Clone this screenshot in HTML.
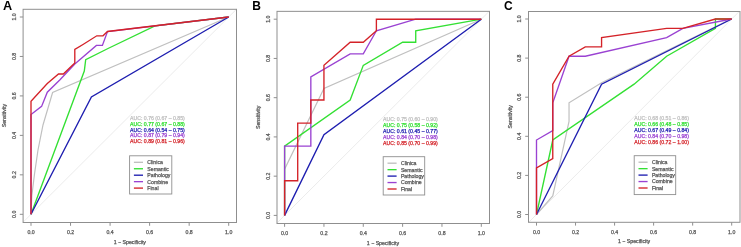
<!DOCTYPE html>
<html><head><meta charset="utf-8"><title>ROC curves</title>
<style>
html,body{margin:0;padding:0;background:#fff;}
body{width:741px;height:247px;overflow:hidden;font-family:"Liberation Sans",sans-serif;}
svg{display:block;will-change:transform;}
text{font-family:"Liberation Sans",sans-serif;}
.s text{stroke-width:0.25px;paint-order:stroke;}
</style></head><body>
<svg width="741" height="247" viewBox="0 0 741 247">
<rect x="0" y="0" width="741" height="247" fill="#fff"/>
<g class="s">
<text x="0" y="0" font-size="12" font-weight="bold" fill="#000" transform="translate(2.9 10.2) scale(1.06 1)">A</text>
<line x1="23.09" y1="222.19" x2="236.61" y2="9.11" stroke="#e9e9e9" stroke-width="0.9"/>
<polyline fill="none" stroke="#c0c0c0" stroke-width="1.2" stroke-linejoin="miter" points="31,214.3 31.8,196 34.5,174 38,150 43,125 52.6,92.5 228.7,17"/>
<polyline fill="none" stroke="#33e033" stroke-width="1.35" stroke-linejoin="miter" points="31,214.3 84.3,71 85.7,59.6 108,48.5 155,25.8 228.7,17"/>
<polyline fill="none" stroke="#1e1eb0" stroke-width="1.35" stroke-linejoin="miter" points="31,214.3 91.4,96.9 228.7,17"/>
<polyline fill="none" stroke="#9a42d2" stroke-width="1.35" stroke-linejoin="miter" points="31,214.3 31,114.5 41.6,106.4 47.3,92.2 60,79.8 74.8,64 96.4,45.4 102.4,45.4 107.5,31.5 228.7,17"/>
<polyline fill="none" stroke="#d42228" stroke-width="1.35" stroke-linejoin="miter" points="31,214.3 31,101.3 47.3,83.6 58.5,74 63.3,74 74.8,62.9 74.8,49.5 83,44.5 96.8,35.8 103,35.8 107.5,31.5 228.7,17"/>
<rect x="23.1" y="9.3" width="213.4" height="213.2" fill="none" stroke="#8f8f8f" stroke-width="1"/>
<path d="M31 222.5v3.3M23.1 214.3h-3.3M70.54 222.5v3.3M23.1 174.84h-3.3M110.08 222.5v3.3M23.1 135.38h-3.3M149.62 222.5v3.3M23.1 95.92h-3.3M189.16 222.5v3.3M23.1 56.46h-3.3M228.7 222.5v3.3M23.1 17h-3.3" stroke="#8f8f8f" stroke-width="1" fill="none"/>
<text x="31" y="234.2" font-size="5.2" text-anchor="middle" fill="#555555" stroke="#555555">0.0</text>
<text x="14.5" y="216.2" font-size="5.2" text-anchor="middle" fill="#555555" transform="rotate(-90 14.5 214.3)" stroke="#555555">0.0</text>
<text x="70.54" y="234.2" font-size="5.2" text-anchor="middle" fill="#555555" stroke="#555555">0.2</text>
<text x="14.5" y="176.74" font-size="5.2" text-anchor="middle" fill="#555555" transform="rotate(-90 14.5 174.84)" stroke="#555555">0.2</text>
<text x="110.08" y="234.2" font-size="5.2" text-anchor="middle" fill="#555555" stroke="#555555">0.4</text>
<text x="14.5" y="137.28" font-size="5.2" text-anchor="middle" fill="#555555" transform="rotate(-90 14.5 135.38)" stroke="#555555">0.4</text>
<text x="149.62" y="234.2" font-size="5.2" text-anchor="middle" fill="#555555" stroke="#555555">0.6</text>
<text x="14.5" y="97.82" font-size="5.2" text-anchor="middle" fill="#555555" transform="rotate(-90 14.5 95.92)" stroke="#555555">0.6</text>
<text x="189.16" y="234.2" font-size="5.2" text-anchor="middle" fill="#555555" stroke="#555555">0.8</text>
<text x="14.5" y="58.36" font-size="5.2" text-anchor="middle" fill="#555555" transform="rotate(-90 14.5 56.46)" stroke="#555555">0.8</text>
<text x="228.7" y="234.2" font-size="5.2" text-anchor="middle" fill="#555555" stroke="#555555">1.0</text>
<text x="14.5" y="18.9" font-size="5.2" text-anchor="middle" fill="#555555" transform="rotate(-90 14.5 17)" stroke="#555555">1.0</text>
<text x="129.85" y="243.5" font-size="5.2" text-anchor="middle" fill="#555555" stroke="#555555">1 − Specificity</text>
<text x="4.1" y="117.55" font-size="5.2" text-anchor="middle" fill="#555555" transform="rotate(-90 4.1 115.65)" stroke="#555555">Sensitivity</text>
<text x="130" y="119.8" font-size="5.2" fill="#c0c0c0" stroke="#c0c0c0">AUC: 0.76 (0.67 – 0.85)</text>
<text x="130" y="125.68" font-size="5.2" fill="#33e033" stroke="#33e033">AUC: 0.77 (0.67 – 0.88)</text>
<text x="130" y="131.56" font-size="5.2" fill="#1e1eb0" stroke="#1e1eb0">AUC: 0.64 (0.54 – 0.75)</text>
<text x="130" y="137.44" font-size="5.2" fill="#9a42d2" stroke="#9a42d2">AUC: 0.87 (0.79 – 0.94)</text>
<text x="130" y="143.32" font-size="5.2" fill="#d42228" stroke="#d42228">AUC: 0.89 (0.81 – 0.96)</text>
<rect x="129.6" y="155.8" width="42.2" height="38.2" fill="#fff" stroke="#8f8f8f" stroke-width="0.9"/>
<line x1="133.9" y1="162.3" x2="143" y2="162.3" stroke="#c0c0c0" stroke-width="1.35"/>
<text x="147.3" y="164.2" font-size="5.2" fill="#555555" stroke="#555555">Clinica</text>
<line x1="133.9" y1="168.75" x2="143" y2="168.75" stroke="#33e033" stroke-width="1.35"/>
<text x="147.3" y="170.65" font-size="5.2" fill="#555555" stroke="#555555">Semantic</text>
<line x1="133.9" y1="175.2" x2="143" y2="175.2" stroke="#1e1eb0" stroke-width="1.35"/>
<text x="147.3" y="177.1" font-size="5.2" fill="#555555" stroke="#555555">Pathology</text>
<line x1="133.9" y1="181.65" x2="143" y2="181.65" stroke="#9a42d2" stroke-width="1.35"/>
<text x="147.3" y="183.55" font-size="5.2" fill="#555555" stroke="#555555">Combine</text>
<line x1="133.9" y1="188.1" x2="143" y2="188.1" stroke="#d42228" stroke-width="1.35"/>
<text x="147.3" y="190" font-size="5.2" fill="#555555" stroke="#555555">Final</text>
</g>
<g class="s">
<text x="0" y="0" font-size="12" font-weight="bold" fill="#000" transform="translate(252.2 10.2) scale(1 1)">B</text>
<line x1="276.73" y1="223.25" x2="489.17" y2="11.35" stroke="#e9e9e9" stroke-width="0.9"/>
<polyline fill="none" stroke="#c0c0c0" stroke-width="1.2" stroke-linejoin="miter" points="284.6,215.4 284.6,169.24 323.94,88.45 481.3,19.2"/>
<polyline fill="none" stroke="#33e033" stroke-width="1.35" stroke-linejoin="miter" points="284.6,215.4 284.6,146.15 350.17,99.99 363.28,65.36 402.62,42.28 415.73,42.28 415.73,30.74 481.3,19.2"/>
<polyline fill="none" stroke="#1e1eb0" stroke-width="1.35" stroke-linejoin="miter" points="284.6,215.4 323.94,134.61 481.3,19.2"/>
<polyline fill="none" stroke="#9a42d2" stroke-width="1.35" stroke-linejoin="miter" points="284.6,215.4 284.6,146.15 310.83,146.15 310.83,76.91 350.17,53.82 363.28,53.82 376.39,30.74 415.73,19.2 481.3,19.2"/>
<polyline fill="none" stroke="#d42228" stroke-width="1.35" stroke-linejoin="miter" points="284.6,215.4 284.6,180.78 297.71,180.78 297.71,123.07 310.83,123.07 310.83,99.99 323.94,99.99 323.94,65.36 350.17,42.28 363.28,42.28 376.39,30.74 376.39,19.2 481.3,19.2"/>
<rect x="277" y="11.35" width="212.5" height="212.15" fill="none" stroke="#8f8f8f" stroke-width="1"/>
<path d="M284.6 223.5v3.3M277 215.4h-3.3M323.94 223.5v3.3M277 176.16h-3.3M363.28 223.5v3.3M277 136.92h-3.3M402.62 223.5v3.3M277 97.68h-3.3M441.96 223.5v3.3M277 58.44h-3.3M481.3 223.5v3.3M277 19.2h-3.3" stroke="#8f8f8f" stroke-width="1" fill="none"/>
<text x="284.6" y="235.2" font-size="5.2" text-anchor="middle" fill="#555555" stroke="#555555">0.0</text>
<text x="268.4" y="217.3" font-size="5.2" text-anchor="middle" fill="#555555" transform="rotate(-90 268.4 215.4)" stroke="#555555">0.0</text>
<text x="323.94" y="235.2" font-size="5.2" text-anchor="middle" fill="#555555" stroke="#555555">0.2</text>
<text x="268.4" y="178.06" font-size="5.2" text-anchor="middle" fill="#555555" transform="rotate(-90 268.4 176.16)" stroke="#555555">0.2</text>
<text x="363.28" y="235.2" font-size="5.2" text-anchor="middle" fill="#555555" stroke="#555555">0.4</text>
<text x="268.4" y="138.82" font-size="5.2" text-anchor="middle" fill="#555555" transform="rotate(-90 268.4 136.92)" stroke="#555555">0.4</text>
<text x="402.62" y="235.2" font-size="5.2" text-anchor="middle" fill="#555555" stroke="#555555">0.6</text>
<text x="268.4" y="99.58" font-size="5.2" text-anchor="middle" fill="#555555" transform="rotate(-90 268.4 97.68)" stroke="#555555">0.6</text>
<text x="441.96" y="235.2" font-size="5.2" text-anchor="middle" fill="#555555" stroke="#555555">0.8</text>
<text x="268.4" y="60.34" font-size="5.2" text-anchor="middle" fill="#555555" transform="rotate(-90 268.4 58.44)" stroke="#555555">0.8</text>
<text x="481.3" y="235.2" font-size="5.2" text-anchor="middle" fill="#555555" stroke="#555555">1.0</text>
<text x="268.4" y="21.1" font-size="5.2" text-anchor="middle" fill="#555555" transform="rotate(-90 268.4 19.2)" stroke="#555555">1.0</text>
<text x="382.95" y="244.5" font-size="5.2" text-anchor="middle" fill="#555555" stroke="#555555">1 − Specificity</text>
<text x="258" y="119.2" font-size="5.2" text-anchor="middle" fill="#555555" transform="rotate(-90 258 117.3)" stroke="#555555">Sensitivity</text>
<text x="383" y="120.8" font-size="5.2" fill="#c0c0c0" stroke="#c0c0c0">AUC: 0.75 (0.60 – 0.90)</text>
<text x="383" y="126.75" font-size="5.2" fill="#33e033" stroke="#33e033">AUC: 0.75 (0.58 – 0.92)</text>
<text x="383" y="132.7" font-size="5.2" fill="#1e1eb0" stroke="#1e1eb0">AUC: 0.61 (0.45 – 0.77)</text>
<text x="383" y="138.65" font-size="5.2" fill="#9a42d2" stroke="#9a42d2">AUC: 0.84 (0.70 – 0.98)</text>
<text x="383" y="144.6" font-size="5.2" fill="#d42228" stroke="#d42228">AUC: 0.85 (0.70 – 0.99)</text>
<rect x="383.2" y="156.7" width="41.5" height="38.3" fill="#fff" stroke="#8f8f8f" stroke-width="0.9"/>
<line x1="387.5" y1="163.2" x2="396.6" y2="163.2" stroke="#c0c0c0" stroke-width="1.35"/>
<text x="400.9" y="165.1" font-size="5.2" fill="#555555" stroke="#555555">Clinica</text>
<line x1="387.5" y1="169.65" x2="396.6" y2="169.65" stroke="#33e033" stroke-width="1.35"/>
<text x="400.9" y="171.55" font-size="5.2" fill="#555555" stroke="#555555">Semantic</text>
<line x1="387.5" y1="176.1" x2="396.6" y2="176.1" stroke="#1e1eb0" stroke-width="1.35"/>
<text x="400.9" y="178" font-size="5.2" fill="#555555" stroke="#555555">Pathology</text>
<line x1="387.5" y1="182.55" x2="396.6" y2="182.55" stroke="#9a42d2" stroke-width="1.35"/>
<text x="400.9" y="184.45" font-size="5.2" fill="#555555" stroke="#555555">Combine</text>
<line x1="387.5" y1="189" x2="396.6" y2="189" stroke="#d42228" stroke-width="1.35"/>
<text x="400.9" y="190.9" font-size="5.2" fill="#555555" stroke="#555555">Final</text>
</g>
<g class="s">
<text x="0" y="0" font-size="12" font-weight="bold" fill="#000" transform="translate(504 10.2) scale(1 1)">C</text>
<line x1="528.69" y1="222.32" x2="739.51" y2="11.18" stroke="#e9e9e9" stroke-width="0.9"/>
<polyline fill="none" stroke="#c0c0c0" stroke-width="1.2" stroke-linejoin="miter" points="536.5,214.5 552.77,195.88 569.03,121.4 569.03,102.79 601.57,82.77 731.7,18.72"/>
<polyline fill="none" stroke="#33e033" stroke-width="1.35" stroke-linejoin="miter" points="536.5,214.5 552.77,140.02 634.1,84.17 666.63,56.24 715.43,28.31 715.43,19 731.7,19"/>
<polyline fill="none" stroke="#1e1eb0" stroke-width="1.35" stroke-linejoin="miter" points="536.5,214.5 601.57,84.17 731.7,19"/>
<polyline fill="none" stroke="#9a42d2" stroke-width="1.35" stroke-linejoin="miter" points="536.5,214.5 536.5,140.02 552.77,130.71 552.77,102.79 569.03,56.24 585.3,56.24 666.63,37.62 682.9,28.31 731.7,19"/>
<polyline fill="none" stroke="#d42228" stroke-width="1.35" stroke-linejoin="miter" points="536.5,214.5 536.5,167.95 552.77,158.64 552.77,84.17 569.03,56.24 585.3,46.93 601.57,46.93 601.57,37.62 666.63,28.31 682.9,28.31 715.43,19 731.7,19"/>
<rect x="528.5" y="11.5" width="211.5" height="210.8" fill="none" stroke="#8f8f8f" stroke-width="1"/>
<path d="M536.5 222.3v3.3M528.5 214.5h-3.3M575.54 222.3v3.3M528.5 175.4h-3.3M614.58 222.3v3.3M528.5 136.3h-3.3M653.62 222.3v3.3M528.5 97.2h-3.3M692.66 222.3v3.3M528.5 58.1h-3.3M731.7 222.3v3.3M528.5 19h-3.3" stroke="#8f8f8f" stroke-width="1" fill="none"/>
<text x="536.5" y="234" font-size="5.2" text-anchor="middle" fill="#555555" stroke="#555555">0.0</text>
<text x="519" y="216.4" font-size="5.2" text-anchor="middle" fill="#555555" transform="rotate(-90 519 214.5)" stroke="#555555">0.0</text>
<text x="575.54" y="234" font-size="5.2" text-anchor="middle" fill="#555555" stroke="#555555">0.2</text>
<text x="519" y="177.3" font-size="5.2" text-anchor="middle" fill="#555555" transform="rotate(-90 519 175.4)" stroke="#555555">0.2</text>
<text x="614.58" y="234" font-size="5.2" text-anchor="middle" fill="#555555" stroke="#555555">0.4</text>
<text x="519" y="138.2" font-size="5.2" text-anchor="middle" fill="#555555" transform="rotate(-90 519 136.3)" stroke="#555555">0.4</text>
<text x="653.62" y="234" font-size="5.2" text-anchor="middle" fill="#555555" stroke="#555555">0.6</text>
<text x="519" y="99.1" font-size="5.2" text-anchor="middle" fill="#555555" transform="rotate(-90 519 97.2)" stroke="#555555">0.6</text>
<text x="692.66" y="234" font-size="5.2" text-anchor="middle" fill="#555555" stroke="#555555">0.8</text>
<text x="519" y="60" font-size="5.2" text-anchor="middle" fill="#555555" transform="rotate(-90 519 58.1)" stroke="#555555">0.8</text>
<text x="731.7" y="234" font-size="5.2" text-anchor="middle" fill="#555555" stroke="#555555">1.0</text>
<text x="519" y="20.9" font-size="5.2" text-anchor="middle" fill="#555555" transform="rotate(-90 519 19)" stroke="#555555">1.0</text>
<text x="634.1" y="243.3" font-size="5.2" text-anchor="middle" fill="#555555" stroke="#555555">1 − Specificity</text>
<text x="510.5" y="118.65" font-size="5.2" text-anchor="middle" fill="#555555" transform="rotate(-90 510.5 116.75)" stroke="#555555">Sensitivity</text>
<text x="634.2" y="120" font-size="5.2" fill="#c0c0c0" stroke="#c0c0c0">AUC: 0.68 (0.51 – 0.86)</text>
<text x="634.2" y="125.9" font-size="5.2" fill="#33e033" stroke="#33e033">AUC: 0.66 (0.48 – 0.85)</text>
<text x="634.2" y="131.8" font-size="5.2" fill="#1e1eb0" stroke="#1e1eb0">AUC: 0.67 (0.49 – 0.84)</text>
<text x="634.2" y="137.7" font-size="5.2" fill="#9a42d2" stroke="#9a42d2">AUC: 0.84 (0.70 – 0.98)</text>
<text x="634.2" y="143.6" font-size="5.2" fill="#d42228" stroke="#d42228">AUC: 0.86 (0.72 – 1.00)</text>
<rect x="634.2" y="155.7" width="41.5" height="38.9" fill="#fff" stroke="#8f8f8f" stroke-width="0.9"/>
<line x1="638.5" y1="162.2" x2="647.6" y2="162.2" stroke="#c0c0c0" stroke-width="1.35"/>
<text x="651.9" y="164.1" font-size="5.2" fill="#555555" stroke="#555555">Clinica</text>
<line x1="638.5" y1="168.65" x2="647.6" y2="168.65" stroke="#33e033" stroke-width="1.35"/>
<text x="651.9" y="170.55" font-size="5.2" fill="#555555" stroke="#555555">Semantic</text>
<line x1="638.5" y1="175.1" x2="647.6" y2="175.1" stroke="#1e1eb0" stroke-width="1.35"/>
<text x="651.9" y="177" font-size="5.2" fill="#555555" stroke="#555555">Pathology</text>
<line x1="638.5" y1="181.55" x2="647.6" y2="181.55" stroke="#9a42d2" stroke-width="1.35"/>
<text x="651.9" y="183.45" font-size="5.2" fill="#555555" stroke="#555555">Combine</text>
<line x1="638.5" y1="188" x2="647.6" y2="188" stroke="#d42228" stroke-width="1.35"/>
<text x="651.9" y="189.9" font-size="5.2" fill="#555555" stroke="#555555">Final</text>
</g>
</svg>
</body></html>
